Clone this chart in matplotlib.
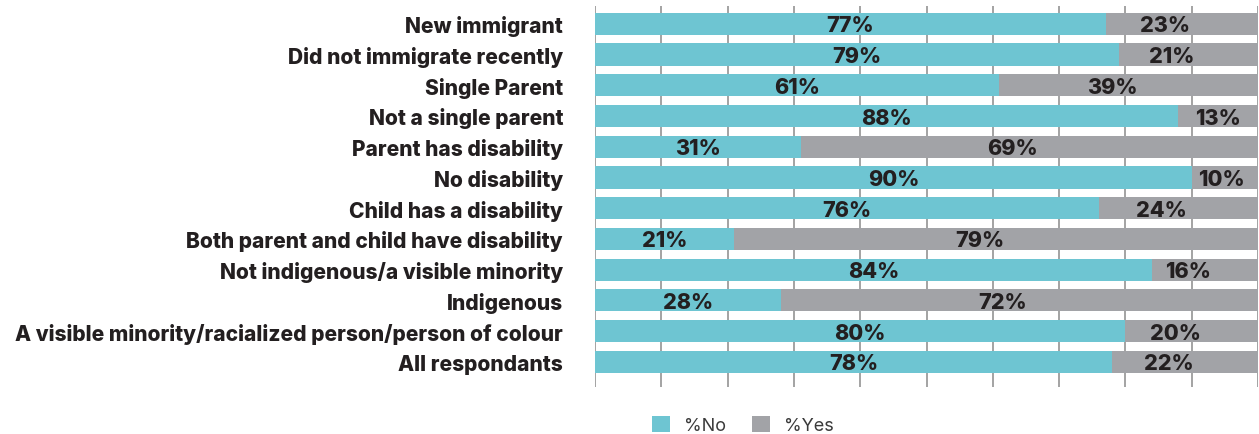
import matplotlib
matplotlib.use("Agg")
import matplotlib.pyplot as plt
from matplotlib.patches import Patch

categories = [
    "New immigrant",
    "Did not immigrate recently",
    "Single Parent",
    "Not a single parent",
    "Parent has disability",
    "No disability",
    "Child has a disability",
    "Both parent and child have disability",
    "Not indigenous/a visible minority",
    "Indigenous",
    "A visible minority/racialized person/person of colour",
    "All respondants",
]
pct_no = [77, 79, 61, 88, 31, 90, 76, 21, 84, 28, 80, 78]
pct_yes = [23, 21, 39, 13, 69, 10, 24, 79, 16, 72, 20, 22]
series_names = ["%No", "%Yes"]

TEAL = "#6ec5d2"
GREY = "#a2a3a7"
TEXT = "#231f20"
FONT = ["Inter", "DejaVu Sans"]

W, H = 1259, 435
fig = plt.figure(figsize=(W / 100, H / 100), dpi=100)
ax = fig.add_axes([595 / W, 1 - 388 / H, (1258 - 595) / W, (388 - 7) / H])

ys = list(range(len(categories)))
bar_h = 0.72
ax.barh(ys, pct_no, height=bar_h, color=TEAL, zorder=2)
ax.barh(ys, pct_yes, left=pct_no, height=bar_h, color=GREY, zorder=2)

for y, n, yv in zip(ys, pct_no, pct_yes):
    ax.text(n / 2, y + 0.05, f"{n}%", ha="center", va="center",
            fontsize=15.5, fontweight=800, color=TEXT, family=FONT, zorder=3)
    x_yes = n + yv / 2 - (2.5 if yv > 15 else 0.5)
    x_yes = min(x_yes, 100 - 4.5)
    ax.text(x_yes, y + 0.05, f"{yv}%", ha="center", va="center",
            fontsize=15.5, fontweight=800, color=TEXT, family=FONT, zorder=3)

ax.set_xlim(0, 100)
ax.set_ylim(len(categories) - 1 + 0.82, -0.58)
ax.set_xticks(range(0, 101, 10))
ax.grid(axis="x", color="#8a8a8a", linewidth=1.1, zorder=1)
ax.tick_params(axis="x", length=0, labelbottom=False)
ax.tick_params(axis="y", length=0, pad=23)
ax.set_yticks(ys)
ax.set_yticklabels(categories, fontsize=15.1, fontweight=800, color=TEXT, family=FONT)
for s in ax.spines.values():
    s.set_visible(False)

handles = [Patch(facecolor=TEAL, edgecolor="none"), Patch(facecolor=GREY, edgecolor="none")]
leg = fig.legend(handles, series_names, loc="center", bbox_to_anchor=(743 / W, 1 - 426 / H),
                 ncol=2, frameon=False, handlelength=1.0, handleheight=1.0,
                 handletextpad=0.8, columnspacing=1.4,
                 prop={"family": FONT, "size": 13})
for t in leg.get_texts():
    t.set_color("#3a3a3a")

fig.savefig("out.png", dpi=100)
